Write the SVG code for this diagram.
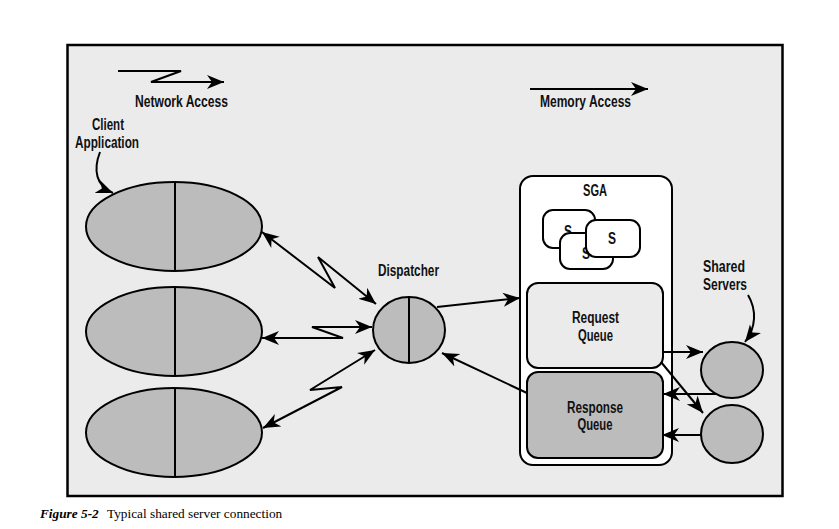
<svg xmlns="http://www.w3.org/2000/svg" width="839" height="529" viewBox="0 0 839 529">
  <defs>
    <marker id="ah" markerUnits="userSpaceOnUse" markerWidth="19" markerHeight="15" refX="17" refY="7.5" orient="auto-start-reverse" viewBox="0 0 19 15">
      <path d="M0,0.5 L17,7.5 L0,14.5 L5,7.5 Z" fill="#000"/>
    </marker>
    <style>
      .lbl { font-family: "Liberation Sans", Arial, sans-serif; font-weight: bold; font-size: 16px; fill: #111; text-anchor: middle; }
      .conn { fill: none; stroke: #000; stroke-width: 2; }
      .arr { marker-end: url(#ah); }
      .both { marker-start: url(#ah); marker-end: url(#ah); }
      .node { fill: #bcbcbc; stroke: #000; stroke-width: 2; }
      .div { stroke: #000; stroke-width: 2; }
      .sbox { fill: #fff; stroke: #000; stroke-width: 2; }
      .cap { font-family: "Liberation Serif", "DejaVu Serif", serif; font-size: 13.3px; fill: #000; }
    </style>
  </defs>
  <rect x="0" y="0" width="839" height="529" fill="#fff"/>
  <rect id="frame" x="67.5" y="45" width="715" height="451" fill="#ebebeb" stroke="#000" stroke-width="2.5"/>

  <g id="legend-network">
    <path class="conn arr" d="M118,71 L181,71 L151,82 L224,82"/>
    <text class="lbl" x="181.5" y="107" textLength="93" lengthAdjust="spacingAndGlyphs">Network Access</text>
  </g>
  <g id="legend-memory">
    <path class="conn arr" d="M530,89 L648,89"/>
    <text class="lbl" x="585.5" y="107" textLength="91" lengthAdjust="spacingAndGlyphs">Memory Access</text>
  </g>

  <g id="client-label">
    <text class="lbl" x="108" y="130" textLength="32" lengthAdjust="spacingAndGlyphs">Client</text>
    <text class="lbl" x="107" y="148" textLength="64" lengthAdjust="spacingAndGlyphs">Application</text>
  </g>

  <g id="client1">
    <ellipse class="node" cx="174" cy="226.5" rx="88" ry="44.5"/>
    <line class="div" x1="175" y1="182" x2="175" y2="271"/>
  </g>
  <g id="client2">
    <ellipse class="node" cx="174" cy="331.5" rx="88" ry="44.5"/>
    <line class="div" x1="175" y1="287" x2="175" y2="376"/>
  </g>
  <g id="client3">
    <ellipse class="node" cx="174" cy="432.5" rx="88" ry="44.5"/>
    <line class="div" x1="175" y1="388" x2="175" y2="477"/>
  </g>

  <g id="dispatcher">
    <ellipse class="node" cx="409" cy="330" rx="36" ry="33"/>
    <line class="div" x1="409" y1="297" x2="409" y2="363"/>
    <text class="lbl" x="408.5" y="276" textLength="61" lengthAdjust="spacingAndGlyphs">Dispatcher</text>
  </g>

  <g id="sga">
    <rect x="520" y="176" width="152" height="289" rx="13" fill="#fff" stroke="#000" stroke-width="2"/>
    <text class="lbl" x="595" y="196" textLength="24" lengthAdjust="spacingAndGlyphs">SGA</text>
    <g id="s1">
      <rect class="sbox" x="543" y="210" width="52" height="38" rx="10"/>
      <text class="lbl" x="568" y="237" textLength="8" lengthAdjust="spacingAndGlyphs">S</text>
    </g>
    <g id="s2">
      <rect class="sbox" x="560" y="233" width="53" height="36" rx="10"/>
      <text class="lbl" x="586" y="259" textLength="8" lengthAdjust="spacingAndGlyphs">S</text>
    </g>
    <g id="s3">
      <rect class="sbox" x="586" y="220" width="54" height="37" rx="10"/>
      <text class="lbl" x="612" y="244" textLength="8" lengthAdjust="spacingAndGlyphs">S</text>
    </g>
  </g>

  <g id="request-queue">
    <rect x="527" y="283" width="136" height="85" rx="11" fill="#ebebeb" stroke="#000" stroke-width="2"/>
    <text class="lbl" x="595.5" y="323" textLength="47" lengthAdjust="spacingAndGlyphs">Request</text>
    <text class="lbl" x="595.5" y="341" textLength="35" lengthAdjust="spacingAndGlyphs">Queue</text>
  </g>
  <g id="response-queue">
    <rect x="527" y="372" width="136" height="86" rx="11" fill="#bcbcbc" stroke="#000" stroke-width="2"/>
    <text class="lbl" x="595" y="413" textLength="56" lengthAdjust="spacingAndGlyphs">Response</text>
    <text class="lbl" x="595" y="430" textLength="35" lengthAdjust="spacingAndGlyphs">Queue</text>
  </g>

  <g id="server1">
    <ellipse class="node" cx="732" cy="370" rx="31" ry="28"/>
  </g>
  <g id="server2">
    <ellipse class="node" cx="732" cy="434" rx="31" ry="29"/>
  </g>
  <g id="servers-label">
    <text class="lbl" x="724" y="272" textLength="42" lengthAdjust="spacingAndGlyphs">Shared</text>
    <text class="lbl" x="725" y="290" textLength="44" lengthAdjust="spacingAndGlyphs">Servers</text>
  </g>

  <g id="connectors">
    <path class="conn arr" d="M100,152 C93,170 96,186 113,193"/>
    <path class="conn arr" d="M748,295 C757,310 756,328 745,342"/>
    <path class="conn both" d="M262,232 L335,288 L318,257 L376,304"/>
    <path class="conn both" d="M262,338 L343,338 L312,327 L372,327"/>
    <path class="conn both" d="M375,350 L310,390 L342,387 L263,428"/>
    <path class="conn arr" d="M437,307 L520,298"/>
    <path class="conn arr" d="M527,393 L442,353"/>
    <path class="conn arr" d="M663,352 L703,352"/>
    <path class="conn arr" d="M716,394 L663,394"/>
    <path class="conn arr" d="M661,362 L703,413"/>
    <path class="conn arr" d="M702,435 L662,435"/>
  </g>

  <g id="caption">
    <text class="cap" x="40" y="518"><tspan font-weight="bold" font-style="italic">Figure 5-2</tspan><tspan x="107">Typical shared server connection</tspan></text>
  </g>
</svg>
